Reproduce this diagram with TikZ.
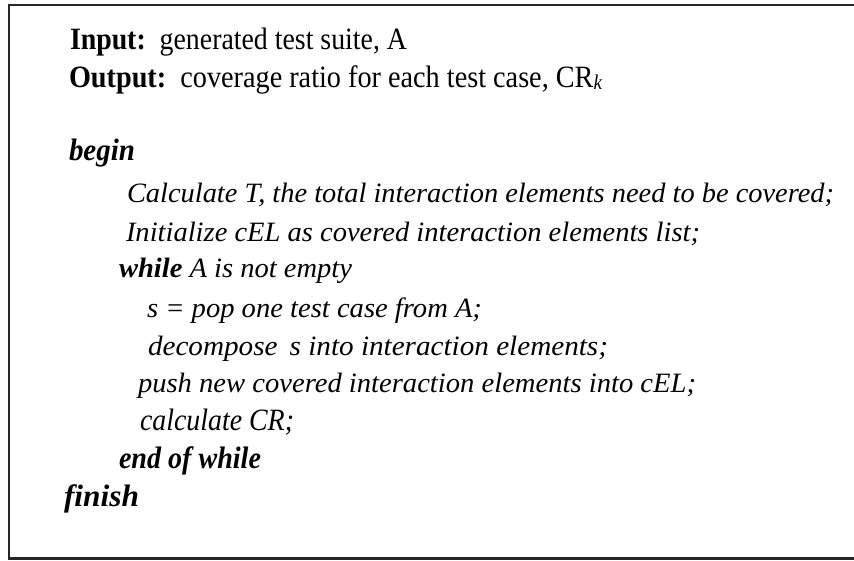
\documentclass[tikz,border=0pt]{standalone}
\usepackage{fontspec}
\setmainfont{Liberation Serif}
\usepackage{graphicx}
\tikzset{
  codeline/.style={anchor=base west, inner sep=0pt, outer sep=0pt, font=\fontsize{31}{33}\selectfont},
  bodyline/.style={codeline, font=\fontsize{28}{30}\selectfont},
  frame/.style={draw=black!85, line width=2.6pt}
}
\newcommand{\fitw}[2]{\resizebox{#1pt}{\height}{#2}}
\begin{document}
\begin{tikzpicture}[x=1pt,y=-1pt]
\useasboundingbox (0,0) rectangle (854,561);
\begin{scope}
\clip (0,0) rectangle (854,561);
\draw[frame] (9,5) rectangle (880,558.5);
\end{scope}
\node[codeline] (l1) at (70,50) {\fitw{337}{\textbf{Input}\textbf{:}\, generated test suite, A}};
\node[codeline] (l2) at (69,88) {\fitw{533}{\textbf{Output}\textbf{:}\, coverage ratio for each test case, CR\raisebox{-2pt}{\fontsize{21}{21}\selectfont\itshape k}}};
\node[codeline] (l3) at (69,161) {\fitw{66}{\bfseries\itshape begin}};
\node[bodyline] (l4) at (127,203) {\fitw{707}{\itshape Calculate T, the total interaction elements need to be covered;}};
\node[bodyline] (l5) at (126,242) {\fitw{574}{\itshape Initialize cEL as covered interaction elements list;}};
\node[bodyline] (l6) at (119,278) {\fitw{233}{\textbf{\itshape while} \itshape A is not empty}};
\node[bodyline] (l7) at (147,318) {\fitw{335}{\itshape s = pop one test case from A;}};
\node[bodyline] (l8) at (148,355) {\fitw{460}{\itshape decompose\, s into interaction elements;}};
\node[bodyline] (l9) at (138,392) {\fitw{558}{\itshape push new covered interaction elements into cEL;}};
\node[codeline] (l10) at (140,430) {\fitw{154}{\itshape calculate CR;}};
\node[codeline] (l11) at (119,468) {\fitw{142}{\bfseries\itshape end of while}};
\node[codeline] (l12) at (64,506) {\fitw{75}{\bfseries\itshape finish}};
\end{tikzpicture}
\end{document}
